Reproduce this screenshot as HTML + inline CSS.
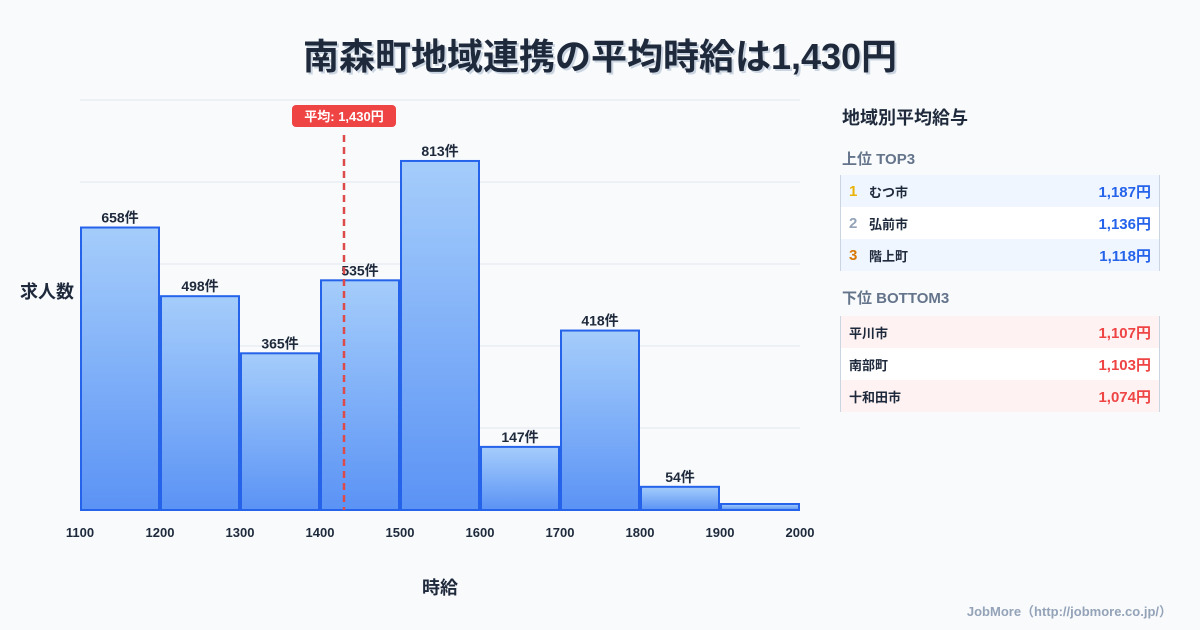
<!DOCTYPE html>
<html><head><meta charset="utf-8">
<style>
body{margin:0;width:1200px;height:630px;background:#f8fafc;font-family:"Liberation Sans","Noto Sans CJK JP",sans-serif;position:relative;overflow:hidden;color:#1e293b}
.title{position:absolute;top:28px;left:0;width:1200px;text-align:center;font-size:36px;font-weight:bold;color:#1e293b;text-shadow:2px 2px 0 #cbd5e1}
.panel{position:absolute;left:840px;top:100px;width:320px}
.ph{font-size:18px;font-weight:bold;margin:4px 0 0 2px}
.sh{font-size:15px;font-weight:bold;color:#64748b;margin:20px 0 6px 2px}
.row{height:32px;display:flex;align-items:center;font-size:13px;font-weight:bold;border-left:1px solid #cbd5e1;border-right:1px solid #cbd5e1;padding:0 8px}
.row .v{margin-left:auto;font-size:15px}
.rk{width:20px;font-size:15px}
.foot{position:absolute;right:28px;bottom:10px;font-size:13px;color:#94a3b8;font-weight:bold}
</style></head><body>
<div class="title">南森町地域連携の平均時給は1,430円</div>
<svg id="chart" width="830" height="630" style="position:absolute;left:0;top:0"></svg>
<div class="panel">
<div class="ph">地域別平均給与</div>
<div class="sh" style="margin-top:18px">上位 TOP3</div>
<div class="row" style="background:#eff6ff"><span class="rk" style="color:#eab308">1</span>むつ市<span class="v" style="color:#2563eb">1,187円</span></div>
<div class="row" style="background:#fff"><span class="rk" style="color:#94a3b8">2</span>弘前市<span class="v" style="color:#2563eb">1,136円</span></div>
<div class="row" style="background:#eff6ff"><span class="rk" style="color:#d97706">3</span>階上町<span class="v" style="color:#2563eb">1,118円</span></div>
<div class="sh" style="margin-top:16px;margin-bottom:8px">下位 BOTTOM3</div>
<div class="row" style="background:#fef2f2">平川市<span class="v" style="color:#ef4444">1,107円</span></div>
<div class="row" style="background:#fff">南部町<span class="v" style="color:#ef4444">1,103円</span></div>
<div class="row" style="background:#fef2f2">十和田市<span class="v" style="color:#ef4444">1,074円</span></div>
</div>
<div class="foot">JobMore（http://jobmore.co.jp/）</div>
<script>
const binStarts=[1100,1200,1300,1400,1500,1600,1700,1800,1900];
const counts=[658,498,365,535,813,147,418,54,14];
const showLabel=[true,true,true,true,true,true,true,true,false];
const xTicks=[1100,1200,1300,1400,1500,1600,1700,1800,1900,2000];
const meanWage=1430;
const NS="http://www.w3.org/2000/svg";
const svg=document.getElementById('chart');
const X0=80,X1=800,XMIN=1100,XMAX=2000,Y0=510,YTOP=100,YMAX=955;
const x=v=>X0+(v-XMIN)/(XMAX-XMIN)*(X1-X0);
const y=v=>Y0-v/YMAX*(Y0-YTOP);
function el(t,a){const e=document.createElementNS(NS,t);for(const k in a)e.setAttribute(k,a[k]);svg.appendChild(e);return e;}
const defs=el('defs',{});
defs.innerHTML='<linearGradient id="g" x1="0" y1="0" x2="0" y2="1"><stop offset="0" stop-color="#a5cdfb"/><stop offset="1" stop-color="#5b93f5"/></linearGradient>';
for(let i=0;i<=5;i++){const gy=Y0-i*(Y0-YTOP)/5;
const g=el('line',{x1:X0,x2:X1,y1:gy,y2:gy,stroke:'#e2e8f0','stroke-width':1});

}
binStarts.forEach((b,i)=>{
const xa=x(b)+1,xb=x(b+100)-1,yt=y(counts[i]);
const r=el('rect',{x:xa,y:yt,width:xb-xa,height:Y0-yt,fill:'url(#g)',stroke:'#2563eb','stroke-width':2});


if(showLabel[i]){const t=el('text',{x:(xa+xb)/2,y:yt-5,'text-anchor':'middle','font-size':14,'font-weight':'bold',fill:'#1e293b'});t.textContent=counts[i]+'件';

}
});
xTicks.forEach(v=>{const t=el('text',{x:x(v),y:537,'text-anchor':'middle','font-size':13,'font-weight':'bold',fill:'#1e293b'});t.textContent=v;

});
const mx=x(meanWage);
const ml=el('line',{x1:mx,x2:mx,y1:135,y2:Y0,stroke:'#dc4a4a','stroke-width':2.5,'stroke-dasharray':'7,5'});


const mb=el('rect',{x:mx-52,y:105,width:104,height:22,rx:4,fill:'#ef4444'});


const mt=el('text',{x:mx,y:121,'text-anchor':'middle','font-size':13,'font-weight':'bold',fill:'#fff'});mt.textContent='平均: 1,430円';


const yt=el('text',{x:20,y:298,'font-size':18,'font-weight':'bold',fill:'#1e293b'});yt.textContent='求人数';


const xt=el('text',{x:440,y:594,'text-anchor':'middle','font-size':18,'font-weight':'bold',fill:'#1e293b'});xt.textContent='時給';


</script>
</body></html>
